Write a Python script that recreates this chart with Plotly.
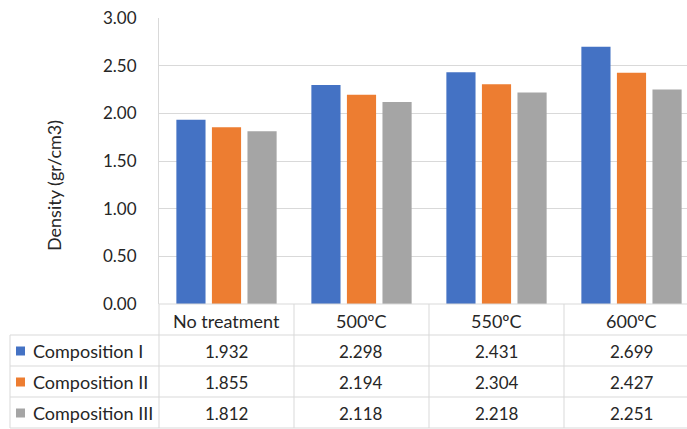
import plotly.graph_objects as go

categories = ["No treatment", "500ºC", "550ºC", "600ºC"]
series_names = ["Composition I", "Composition II", "Composition III"]
comp1 = [1.932, 2.298, 2.431, 2.699]
comp2 = [1.855, 2.194, 2.304, 2.427]
comp3 = [1.812, 2.118, 2.218, 2.251]
colors = ["#4472C4", "#ED7D31", "#A5A5A5"]
y_ticks = [0, 0.5, 1.0, 1.5, 2.0, 2.5, 3.0]

W, H = 687, 429
FONT = "Lato"
TXT = "#262626"
GRID = "#D9D9D9"
FS_TXT = 18
FS_NUM = 17

# plot area in pixels
PL, PR, PT, PB = 159, 687, 18, 304
cat_w = 135.0

def px(x):
    return x / W

def py(y):
    return 1 - y / H

fig = go.Figure()
for name, vals, col in zip(series_names, [comp1, comp2, comp3], colors):
    fig.add_trace(go.Bar(
        x=list(range(len(categories))), y=vals, name=name,
        marker=dict(color=col, line=dict(width=0)),
        showlegend=False,
    ))

x_hi = -0.5 + (PR - PL) / cat_w

fig.update_layout(
    width=W, height=H,
    margin=dict(l=0, r=0, t=0, b=0),
    paper_bgcolor="white", plot_bgcolor="white",
    barmode="group", bargap=0.21, bargroupgap=0.18,
    font=dict(family=FONT, size=FS_TXT, color=TXT),
    xaxis=dict(domain=[px(PL), px(PR)], range=[-0.5, x_hi],
               showticklabels=False, showgrid=False, zeroline=False,
               showline=False, fixedrange=True),
    yaxis=dict(domain=[py(PB), py(PT)], range=[0, 3.0],
               tickvals=y_ticks, ticktext=[f"{v:.2f}" for v in y_ticks],
               showgrid=True, gridcolor=GRID, gridwidth=1,
               zeroline=False, showline=True, linecolor=GRID,
               ticks="", ticklabelstandoff=18,
               tickfont=dict(family=FONT, size=FS_NUM, color=TXT),
               automargin=False, fixedrange=True),
)

annotations = []
shapes = []

# y-axis title
annotations.append(dict(text="Density (gr/cm3)", x=px(54), y=py(186),
                        xref="paper", yref="paper", showarrow=False,
                        xanchor="center", yanchor="middle",
                        textangle=-90, font=dict(family=FONT, size=FS_TXT, color=TXT)))

# table geometry
col_edges = [PL + i * cat_w for i in range(len(categories) + 1)]
row_lines = [335, 366, 397, 428]
row_centers = [351, 382, 413]
header_center = 321

line_style = dict(color=GRID, width=1)
shapes.append(dict(type="line", xref="paper", yref="paper",
                   x0=px(PL), x1=1, y0=py(PB), y1=py(PB), line=line_style))
for yl in row_lines:
    shapes.append(dict(type="line", xref="paper", yref="paper",
                       x0=px(10), x1=1, y0=py(yl), y1=py(yl), line=line_style))
for xe in col_edges:
    if xe > W:
        continue
    shapes.append(dict(type="line", xref="paper", yref="paper",
                       x0=px(xe), x1=px(xe), y0=py(PB), y1=py(428), line=line_style))
shapes.append(dict(type="line", xref="paper", yref="paper",
                   x0=px(10), x1=px(10), y0=py(335), y1=py(428), line=line_style))

# header labels
for i, c in enumerate(categories):
    cx = PL + (i + 0.5) * cat_w
    annotations.append(dict(text=c, x=px(cx), y=py(header_center), xref="paper",
                            yref="paper", showarrow=False, xanchor="center",
                            yanchor="middle",
                            font=dict(family=FONT, size=FS_TXT, color=TXT)))

# rows
for r, (name, vals, col) in enumerate(zip(series_names, [comp1, comp2, comp3], colors)):
    yc = row_centers[r]
    shapes.append(dict(type="rect", xref="paper", yref="paper",
                       x0=px(16), x1=px(25), y0=py(yc + 4.5), y1=py(yc - 4.5),
                       fillcolor=col, line=dict(width=0)))
    annotations.append(dict(text=name, x=px(31), y=py(yc), xref="paper", yref="paper",
                            showarrow=False, xanchor="left", yanchor="middle",
                            font=dict(family=FONT, size=FS_TXT, color=TXT)))
    for i, v in enumerate(vals):
        cx = PL + (i + 0.5) * cat_w
        annotations.append(dict(text=f"{v:.3f}", x=px(cx), y=py(yc), xref="paper",
                                yref="paper", showarrow=False, xanchor="center",
                                yanchor="middle",
                                font=dict(family=FONT, size=FS_NUM, color=TXT)))

fig.update_layout(annotations=annotations, shapes=shapes)
fig.write_html("out.html",
               config={"displayModeBar": False},
               post_script="document.body.style.margin='0';document.body.style.overflow='hidden';")
